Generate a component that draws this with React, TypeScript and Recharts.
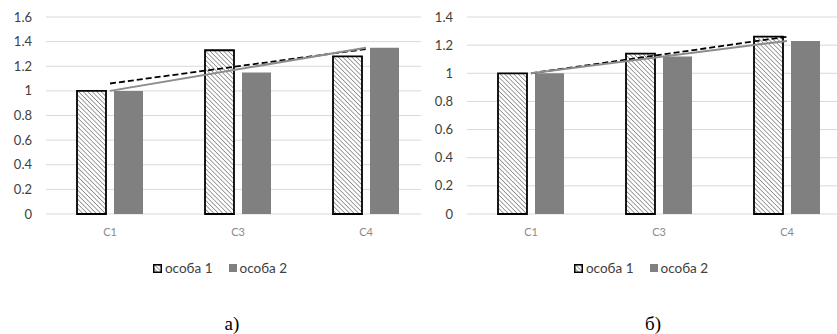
import {
  ComposedChart,
  Bar,
  Line,
  XAxis,
  YAxis,
  CartesianGrid,
  Legend,
} from "recharts";

const categories = ["C1", "C3", "C4"];

// chart а)
const aSeries1 = [1.0, 1.33, 1.28];
const aSeries2 = [1.0, 1.15, 1.35];
const aTrend1 = [1.06, null, 1.34];
const aTrend2 = [1.0, null, 1.35];
const aTicks = [0, 0.2, 0.4, 0.6, 0.8, 1, 1.2, 1.4, 1.6];

// chart б)
const bSeries1 = [1.0, 1.14, 1.26];
const bSeries2 = [1.0, 1.12, 1.23];
const bTrend1 = [1.0, null, 1.26];
const bTrend2 = [1.0, null, 1.23];
const bTicks = [0, 0.2, 0.4, 0.6, 0.8, 1, 1.2, 1.4];

const seriesNames = ["особа 1", "особа 2"];

const font = "Lato, 'Open Sans', sans-serif";

function buildRows(
  s1: number[],
  s2: number[],
  t1: (number | null)[],
  t2: (number | null)[]
) {
  return categories.map((name, i) => ({
    name,
    s1: s1[i],
    s2: s2[i],
    t1: t1[i],
    t2: t2[i],
  }));
}

function LegendBox({ id }: { id: string }) {
  return (
    <div
      style={{
        height: 20,
        display: "flex",
        justifyContent: "center",
        alignItems: "center",
        gap: 16,
        paddingLeft: 10,
        fontFamily: font,
        fontSize: 13.5,
        color: "#404040",
      }}
    >
      <span style={{ display: "flex", alignItems: "center", gap: 3 }}>
        <svg width={9} height={9}>
          <defs>
            <pattern
              id={id}
              width={3}
              height={3}
              patternUnits="userSpaceOnUse"
              patternTransform="rotate(-45)"
            >
              <line x1={0} y1={0} x2={0} y2={3} stroke="#333" strokeWidth={1} />
            </pattern>
          </defs>
          <rect x={0.75} y={0.75} width={7.5} height={7.5} fill={`url(#${id})`} stroke="#000" strokeWidth={1.5} />
        </svg>
        {seriesNames[0]}
      </span>
      <span style={{ display: "flex", alignItems: "center", gap: 3 }}>
        <svg width={8} height={8}>
          <rect x={0} y={0} width={8} height={8} fill="#808080" />
        </svg>
        {seriesNames[1]}
      </span>
    </div>
  );
}

function Panel({
  data,
  ticks,
  max,
  id,
}: {
  data: ReturnType<typeof buildRows>;
  ticks: number[];
  max: number;
  id: string;
}) {
  return (
    <ComposedChart
      width={440}
      height={278}
      data={data}
      margin={{ top: 17, right: 10, left: 0, bottom: 0 }}
      barCategoryGap={31}
      barGap={8}
    >
      <defs>
        <pattern
          id={`hatch-${id}`}
          width={3.2}
          height={3.2}
          patternUnits="userSpaceOnUse"
          patternTransform="rotate(-45)"
        >
          <rect width={3.2} height={3.2} fill="#fff" />
          <line x1={0} y1={0} x2={0} y2={3.2} stroke="#555" strokeWidth={1.1} />
        </pattern>
      </defs>
      <CartesianGrid vertical={false} stroke="#d9d9d9" strokeWidth={1} />
      <XAxis
        dataKey="name"
        axisLine={false}
        tickLine={false}
        height={44}
        tickMargin={8}
        tick={{ fill: "#8a8a8a", fontSize: 11, fontFamily: font }}
      />
      <YAxis
        domain={[0, max]}
        ticks={ticks}
        interval={0}
        axisLine={false}
        tickLine={false}
        width={46}
        tickMargin={8}
        tick={{ fill: "#404040", fontSize: 13, fontFamily: font }}
      />
      <Bar
        dataKey="s1"
        name={seriesNames[0]}
        fill={`url(#hatch-${id})`}
        stroke="#000"
        strokeWidth={1.8}
        isAnimationActive={false}
      />
      <Bar
        dataKey="s2"
        name={seriesNames[1]}
        fill="#808080"
        isAnimationActive={false}
      />
      <Line
        dataKey="t1"
        stroke="#000"
        strokeWidth={1.8}
        strokeDasharray="6 3"
        dot={false}
        connectNulls
        legendType="none"
        isAnimationActive={false}
      />
      <Line
        dataKey="t2"
        stroke="#8c8c8c"
        strokeWidth={2}
        dot={false}
        connectNulls
        legendType="none"
        isAnimationActive={false}
      />
      <Legend
        verticalAlign="bottom"
        content={() => <LegendBox id={`legend-${id}`} />}
      />
    </ComposedChart>
  );
}

export default function App() {
  const dataA = buildRows(aSeries1, aSeries2, aTrend1, aTrend2);
  const dataB = buildRows(bSeries1, bSeries2, bTrend1, bTrend2);

  const captionStyle = {
    position: "absolute" as const,
    width: 80,
    top: 312,
    textAlign: "center" as const,
    fontFamily: "'Liberation Serif', serif",
    fontSize: 19,
    lineHeight: "24px",
  };

  return (
    <div
      style={{
        position: "absolute",
        left: 0,
        top: 0,
        width: 837,
        height: 334,
        background: "#fff",
        overflow: "hidden",
      }}
    >
      <div style={{ position: "absolute", left: 0, top: 0, width: 421, height: 290, overflow: "hidden" }}>
        <Panel data={dataA} ticks={aTicks} max={1.6} id="a" />
      </div>
      <div style={{ position: "absolute", left: 421, top: 0, width: 416, height: 290, overflow: "hidden" }}>
        <Panel data={dataB} ticks={bTicks} max={1.4} id="b" />
      </div>
      <div style={{ ...captionStyle, left: 192 }}>а)</div>
      <div style={{ ...captionStyle, left: 613 }}>б)</div>
    </div>
  );
}
